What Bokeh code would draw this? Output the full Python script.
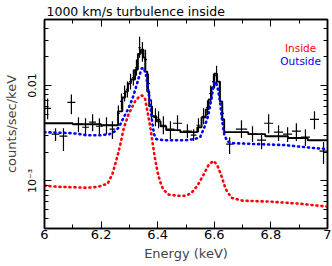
import numpy as np
from bokeh.plotting import figure
from bokeh.models import (LinearAxis, LogAxis, FixedTicker, CustomJSTickFormatter,
                          Label, Range1d)
from bokeh.embed import file_html
from bokeh.resources import INLINE

# ---------------- data ----------------
energy = [6.011, 6.039, 6.067, 6.095, 6.120, 6.145, 6.170, 6.194, 6.219, 6.240,
          6.261, 6.272, 6.283, 6.293, 6.304, 6.314, 6.325, 6.336, 6.346, 6.357,
          6.367, 6.378, 6.392, 6.403, 6.420, 6.445, 6.470, 6.505, 6.527,
          6.544, 6.562, 6.576, 6.587, 6.597, 6.608, 6.618, 6.629,
          6.654, 6.696, 6.735, 6.767, 6.792, 6.827, 6.859, 6.890, 6.922, 6.954, 6.986]
counts = [0.00576, 0.00309, 0.00294, 0.00665, 0.00393, 0.00365, 0.00412, 0.00374, 0.00383, 0.00348,
          0.00511, 0.00681, 0.00825, 0.00909, 0.0110, 0.0121, 0.0154, 0.0249, 0.0226, 0.0187,
          0.0105, 0.00562, 0.00464, 0.00442, 0.00383, 0.00348, 0.00402, 0.00332, 0.00301,
          0.00383, 0.00476, 0.00590, 0.00825, 0.0110, 0.0127, 0.00909, 0.00511,
          0.00243, 0.00348, 0.00309, 0.00267, 0.00402, 0.00324, 0.00309, 0.00332, 0.00287, 0.00442, 0.00205]
counts_hi = [0.00732, 0.00357, 0.00357, 0.00806, 0.00464, 0.00453, 0.00499, 0.00453, 0.00464, 0.00422,
             0.00619, 0.00825, 0.0100, 0.0110, 0.0133, 0.0147, 0.0187, 0.0324, 0.0287, 0.0237,
             0.0133, 0.00715, 0.00576, 0.00536, 0.00476, 0.00422, 0.00487, 0.00393, 0.00348,
             0.00453, 0.00576, 0.00698, 0.0100, 0.0133, 0.0161, 0.0110, 0.00619,
             0.00287, 0.00432, 0.00374, 0.00316, 0.00499, 0.00383, 0.00365, 0.00402, 0.00348, 0.00536, 0.00255]
counts_lo = [0.00442, 0.00261, 0.00205, 0.00499, 0.00324, 0.00294, 0.00332, 0.00301, 0.00309, 0.00274,
             0.00422, 0.00562, 0.00681, 0.00750, 0.00909, 0.0100, 0.0127, 0.0196, 0.0178, 0.0147,
             0.00825, 0.00442, 0.00374, 0.00357, 0.00309, 0.00274, 0.00332, 0.00281, 0.00261,
             0.00324, 0.00393, 0.00487, 0.00681, 0.00909, 0.0100, 0.00750, 0.00422,
             0.00191, 0.00281, 0.00255, 0.00215, 0.00316, 0.00261, 0.00255, 0.00261, 0.00232, 0.00348, 0.00150]
half_width = [0.012, 0.014, 0.014, 0.014, 0.012, 0.012, 0.012, 0.012, 0.012, 0.010,
              0.005, 0.005, 0.005, 0.005, 0.005, 0.005, 0.005, 0.005, 0.005, 0.005,
              0.005, 0.005, 0.007, 0.006, 0.010, 0.014, 0.016, 0.016, 0.010,
              0.007, 0.005, 0.005, 0.005, 0.005, 0.005, 0.005, 0.005,
              0.012, 0.020, 0.016, 0.016, 0.016, 0.016, 0.016, 0.016, 0.016, 0.016, 0.014]

# total model (histogram steps)
model_edges = [6.00, 6.10, 6.20, 6.26, 6.275, 6.285, 6.295, 6.305, 6.32, 6.33, 6.34, 6.35,
               6.356, 6.363, 6.37, 6.38, 6.395, 6.41, 6.43, 6.48, 6.54, 6.555, 6.57, 6.58,
               6.59, 6.60, 6.61, 6.62, 6.628, 6.635, 6.72, 6.78, 6.86, 6.93, 7.00]
model_vals = [0.00402, 0.00393, 0.00383, 0.00536, 0.00750, 0.00866, 0.0105, 0.01155, 0.0147,
              0.0215, 0.0237, 0.0196, 0.0140, 0.00866, 0.00604, 0.00476, 0.00422, 0.00374,
              0.00340, 0.00324, 0.00365, 0.00464, 0.00562, 0.00715, 0.00953, 0.0133, 0.0110,
              0.00681, 0.00442, 0.00324, 0.00309, 0.00294, 0.00281, 0.00267]

# outside component (blue dotted)
outside_e = [6.00, 6.05, 6.10, 6.15, 6.20, 6.23, 6.25, 6.26, 6.27, 6.28, 6.297, 6.311, 6.322,
             6.332, 6.343, 6.35, 6.358, 6.365, 6.372, 6.38, 6.387, 6.395, 6.42, 6.50, 6.53,
             6.55, 6.565, 6.578, 6.588, 6.598, 6.605, 6.613, 6.62, 6.628, 6.635, 6.645,
             6.66, 6.75, 6.85, 6.95, 7.00]
outside_v = [0.00324, 0.00320, 0.00316, 0.00301, 0.00301, 0.00309, 0.00332, 0.00357, 0.00402,
             0.00464, 0.00576, 0.00732, 0.00931, 0.0118, 0.0150, 0.0154, 0.0133, 0.00976,
             0.00681, 0.00422, 0.00309, 0.00274, 0.00267, 0.00267, 0.00274, 0.00287, 0.00365,
             0.00476, 0.00681, 0.0102, 0.0110, 0.00909, 0.00681, 0.00422, 0.00309, 0.00261,
             0.00249, 0.00243, 0.00237, 0.00221, 0.00215]

# inside component (red dotted)
inside_e = [6.00, 6.05, 6.10, 6.15, 6.19, 6.21, 6.223, 6.24, 6.258, 6.269, 6.28, 6.297, 6.32,
            6.335, 6.345, 6.355, 6.367, 6.375, 6.382, 6.39, 6.40, 6.41, 6.42, 6.44, 6.47,
            6.50, 6.52, 6.54, 6.56, 6.58, 6.597, 6.61, 6.625, 6.64, 6.66, 6.70, 6.80, 6.90, 7.00]
inside_v = [0.000887, 0.000866, 0.000856, 0.000846, 0.000866, 0.000909, 0.000931, 0.00118,
            0.00182, 0.00249, 0.00357, 0.00499, 0.00681, 0.00768, 0.00787, 0.00732, 0.00476,
            0.00348, 0.00249, 0.00174, 0.00121, 0.000953, 0.000806, 0.000715, 0.000698,
            0.000698, 0.000750, 0.000887, 0.00113, 0.00147, 0.00162, 0.00147, 0.00113,
            0.000825, 0.000665, 0.000619, 0.000604, 0.000576, 0.000536]

x_ticks = [6.0, 6.2, 6.4, 6.6, 6.8, 7.0]
x_minor = [6.1, 6.3, 6.5, 6.7, 6.9]
y_ticks = [1e-3, 1e-2]
y_minor = [k * 1e-4 for k in range(4, 10)] + [k * 1e-3 for k in range(2, 10)] + [k * 1e-2 for k in range(2, 5)]

title_text = "1000 km/s turbulence inside"
x_label = "Energy (keV)"
y_label = "counts/sec/keV"
legend_names = ["Inside", "Outside"]
legend_colors = ["#ff0000", "#0000ff"]
x_lim = (6.0, 7.0)
y_lim = (3.16e-4, 0.0493)

FONT = "DejaVu Sans"

# ---------------- figure ----------------
p = figure(width=332, height=266, output_backend="svg", toolbar_location=None,
           y_axis_type="log", x_range=Range1d(*x_lim), y_range=Range1d(*y_lim),
           min_border_left=44, min_border_right=5, min_border_top=18, min_border_bottom=38)
p.grid.visible = False
p.outline_line_color = "black"
p.outline_line_width = 1.5
p.background_fill_color = "white"
p.border_fill_color = "white"

p.title.text = title_text
p.title.align = "left"
p.title.offset = 2
p.title.standoff = 2
p.title.text_font = FONT
p.title.text_font_size = "12.5px"
p.title.text_font_style = "normal"
p.title.text_color = "black"

xfmt = CustomJSTickFormatter(code="return (Math.abs(tick - Math.round(tick)) < 1e-9) ? tick.toFixed(0) : tick.toFixed(1);")
yfmt = CustomJSTickFormatter(code="""
if (Math.abs(tick - 0.01) < 1e-9) return "0.01";
if (Math.abs(tick - 0.001) < 1e-10) return "10\u207b\u00b3";
return "";""")
blank = CustomJSTickFormatter(code="return '';")

def style_axis(ax, ticker):
    ax.ticker = ticker
    ax.axis_line_width = 1.5
    ax.major_tick_in = 7
    ax.major_tick_out = 0
    ax.minor_tick_in = 4
    ax.minor_tick_out = 0
    ax.major_tick_line_width = 1
    ax.minor_tick_line_width = 1
    ax.major_label_text_font = FONT
    ax.axis_label_text_font = FONT
    ax.axis_label_text_font_style = "normal"
    ax.major_label_text_color = "black"

xa = p.xaxis[0]
style_axis(xa, FixedTicker(ticks=x_ticks, minor_ticks=x_minor))
xa.formatter = xfmt
xa.major_label_text_font_size = "13px"
xa.major_label_standoff = 1
xa.axis_label = x_label
xa.axis_label_text_font_size = "13px"
xa.axis_label_standoff = 4

ya = p.yaxis[0]
style_axis(ya, FixedTicker(ticks=y_ticks, minor_ticks=y_minor))
ya.formatter = yfmt
ya.major_label_orientation = "vertical"
ya.major_label_text_font_size = "11px"
ya.major_label_standoff = 5
ya.axis_label = y_label
ya.axis_label_text_font_size = "13px"
ya.axis_label_standoff = 5

top = LinearAxis(formatter=blank)
style_axis(top, FixedTicker(ticks=x_ticks, minor_ticks=x_minor))
top.major_label_text_font_size = "0px"
top.major_label_standoff = 0
p.add_layout(top, "above")

right = LogAxis(formatter=blank)
style_axis(right, FixedTicker(ticks=y_ticks, minor_ticks=y_minor))
right.major_label_text_font_size = "0px"
right.major_label_standoff = 0
p.add_layout(right, "right")

# total model histogram
sx, sy = [], []
for i, v in enumerate(model_vals):
    sx += [model_edges[i], model_edges[i + 1]]
    sy += [v, v]
p.line(sx, sy, line_color="black", line_width=1.9)

# data crosses
e = np.array(energy)
hw = np.array(half_width)
p.segment(x0=e - hw, y0=counts, x1=e + hw, y1=counts, line_color="black", line_width=1.2)
p.segment(x0=e, y0=counts_lo, x1=e, y1=counts_hi, line_color="black", line_width=1.2)

# components
p.line(outside_e, outside_v, line_color=legend_colors[1], line_width=2.6, line_dash="1 4", line_cap="round")
p.line(inside_e, inside_v, line_color=legend_colors[0], line_width=2.6, line_dash="1 4", line_cap="round")

# legend texts
p.add_layout(Label(x=6.905, y=0.0249, text=legend_names[0], text_align="center", text_baseline="middle",
                   text_font=FONT, text_font_size="10.5px", text_color=legend_colors[0]))
p.add_layout(Label(x=6.905, y=0.0182, text=legend_names[1], text_align="center", text_baseline="middle",
                   text_font=FONT, text_font_size="10.5px", text_color=legend_colors[1]))

open("out.html", "w").write(file_html(p, INLINE))
